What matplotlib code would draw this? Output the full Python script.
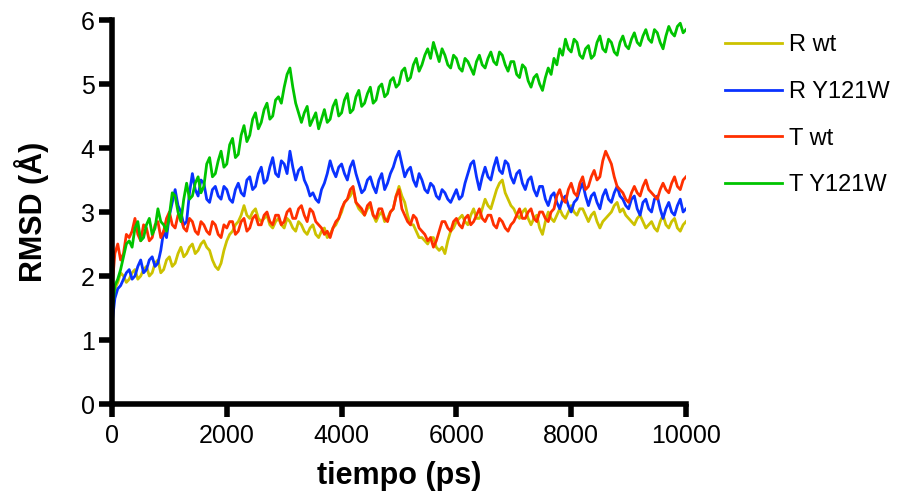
"""
RMSD vs time for the four simulations.
"""

import matplotlib.pyplot as plt
import numpy as np

plt.rcParams["font.family"] = ["Liberation Sans", "DejaVu Sans"]

# time axis (ps), one reading every 50 ps
tiempo = np.arange(0, 10001, 50)

r_wt = [
    1.45, 1.80, 1.90, 2.05, 2.00, 1.90, 1.95, 2.05, 2.10, 1.95,
    2.00, 2.10, 2.15, 2.00, 2.05, 2.20, 2.25, 2.05, 2.10, 2.25,
    2.30, 2.15, 2.20, 2.35, 2.45, 2.30, 2.35, 2.45, 2.50, 2.35,
    2.40, 2.50, 2.55, 2.45, 2.40, 2.25, 2.15, 2.10, 2.20, 2.40,
    2.55, 2.65, 2.70, 2.80, 2.85, 2.95, 3.10, 2.95, 2.90, 3.00,
    3.05, 2.90, 2.85, 2.90, 2.95, 2.80, 2.75, 2.85, 2.90, 2.80,
    2.75, 2.90, 2.85, 2.75, 2.70, 2.85, 2.80, 2.70, 2.65, 2.75,
    2.80, 2.65, 2.60, 2.70, 2.75, 2.60, 2.65, 2.75, 2.80, 2.90,
    3.00, 3.15, 3.20, 3.25, 3.35, 3.15, 3.05, 3.00, 2.95, 3.05,
    3.10, 2.95, 2.85, 2.95, 3.00, 2.85, 2.90, 3.00, 3.05, 3.25,
    3.40, 3.25, 3.15, 2.95, 2.80, 2.80, 2.70, 2.60, 2.60, 2.55,
    2.50, 2.60, 2.60, 2.45, 2.40, 2.45, 2.35, 2.55, 2.70, 2.75,
    2.85, 2.90, 2.95, 2.85, 2.80, 2.95, 3.05, 2.90, 2.90, 3.05,
    3.20, 3.10, 3.05, 3.20, 3.35, 3.45, 3.50, 3.30, 3.20, 3.10,
    3.05, 2.95, 2.90, 3.00, 3.05, 2.90, 2.80, 2.90, 2.95, 2.75,
    2.65, 2.85, 3.00, 2.90, 2.85, 2.95, 3.05, 2.95, 2.90, 3.00,
    3.10, 3.00, 2.95, 3.05, 3.05, 2.95, 2.85, 2.95, 3.00, 2.85,
    2.75, 2.85, 2.90, 2.95, 3.00, 3.10, 3.15, 3.00, 3.05, 2.95,
    2.90, 2.85, 2.80, 2.90, 2.95, 2.85, 2.75, 2.80, 2.85, 2.75,
    2.70, 2.85, 2.95, 2.80, 2.75, 2.85, 2.90, 2.75, 2.70, 2.80,
    2.85,
]

r_y121w = [
    1.25, 1.65, 1.80, 1.85, 1.95, 2.05, 2.10, 1.95, 2.00, 2.15,
    2.25, 2.05, 2.10, 2.25, 2.30, 2.15, 2.20, 2.40, 2.70, 2.60,
    2.95, 3.15, 3.35, 3.10, 3.00, 2.80, 2.85, 3.30, 3.60, 3.35,
    3.25, 3.50, 3.45, 3.20, 3.15, 3.35, 3.40, 3.25, 3.20, 3.40,
    3.35, 3.20, 3.15, 3.35, 3.45, 3.30, 3.25, 3.50, 3.55, 3.35,
    3.40, 3.60, 3.70, 3.45, 3.50, 3.70, 3.85, 3.60, 3.55, 3.80,
    3.75, 3.60, 3.95, 3.70, 3.50, 3.65, 3.70, 3.50, 3.40, 3.25,
    3.30, 3.20, 3.15, 3.35, 3.45, 3.60, 3.80, 3.65, 3.55, 3.70,
    3.75, 3.60, 3.50, 3.70, 3.80, 3.60, 3.45, 3.30, 3.35, 3.50,
    3.55, 3.40, 3.30, 3.50, 3.60, 3.35, 3.45, 3.60, 3.70, 3.85,
    3.95, 3.75, 3.55, 3.65, 3.70, 3.50, 3.40, 3.60, 3.50, 3.35,
    3.30, 3.45, 3.40, 3.25, 3.20, 3.35, 3.30, 3.20, 3.15, 3.25,
    3.35, 3.20, 3.25, 3.45, 3.60, 3.75, 3.80, 3.55, 3.35, 3.55,
    3.70, 3.55, 3.50, 3.70, 3.85, 3.65, 3.60, 3.80, 3.75, 3.55,
    3.45, 3.60, 3.65, 3.45, 3.35, 3.50, 3.55, 3.35, 3.25, 3.40,
    3.40, 3.20, 3.10, 3.25, 3.30, 3.15, 3.05, 3.20, 3.25, 3.10,
    3.00, 3.15, 3.20, 3.35, 3.45, 3.25, 3.10, 3.25, 3.30, 3.15,
    3.05, 3.25, 3.35, 3.20, 3.15, 3.30, 3.40, 3.25, 3.20, 3.10,
    3.05, 3.20, 3.25, 3.05, 2.95, 3.15, 3.20, 3.05, 3.00, 3.20,
    3.25, 3.05, 2.90, 3.05, 3.15, 3.00, 2.95, 3.10, 3.20, 3.00,
    3.05,
]

t_wt = [
    1.80, 2.35, 2.50, 2.25, 2.35, 2.65, 2.60, 2.70, 2.90, 2.65,
    2.55, 2.80, 2.75, 2.55, 2.60, 2.80, 2.85, 2.60, 2.70, 2.90,
    3.00, 2.80, 2.75, 2.95, 2.90, 2.75, 2.70, 2.90, 2.85, 2.70,
    2.65, 2.85, 2.80, 2.70, 2.65, 2.85, 2.80, 2.65, 2.60, 2.80,
    2.75, 2.85, 2.85, 2.65, 2.70, 2.85, 2.90, 2.70, 2.75, 2.90,
    2.95, 2.80, 2.80, 2.95, 3.00, 2.85, 2.80, 2.95, 2.95, 2.80,
    2.85, 3.00, 3.05, 2.90, 2.90, 3.05, 3.10, 2.95, 2.85, 3.05,
    3.00, 2.85, 2.80, 2.75, 2.65, 2.70, 2.60, 2.75, 2.85, 2.90,
    3.05, 3.15, 3.20, 3.35, 3.40, 3.15, 3.10, 3.05, 2.95, 3.10,
    3.15, 2.95, 2.90, 3.05, 3.05, 2.90, 2.85, 3.00, 3.05, 3.25,
    3.35, 3.05, 2.95, 2.85, 2.80, 2.95, 2.90, 2.75, 2.70, 2.65,
    2.55, 2.60, 2.45, 2.55, 2.70, 2.85, 2.85, 2.75, 2.70, 2.85,
    2.90, 2.80, 2.75, 2.90, 2.95, 2.80, 2.85, 2.95, 3.05, 2.90,
    2.85, 2.95, 2.95, 2.80, 2.75, 2.90, 2.85, 2.75, 2.70, 2.80,
    2.85, 2.95, 3.05, 2.90, 2.90, 3.00, 3.05, 2.90, 2.85, 3.00,
    3.00, 2.90, 2.85, 3.00, 3.05, 3.25, 3.35, 3.20, 3.15, 3.35,
    3.45, 3.30, 3.25, 3.45, 3.55, 3.35, 3.40, 3.55, 3.65, 3.50,
    3.55, 3.80, 3.95, 3.85, 3.75, 3.55, 3.40, 3.35, 3.30, 3.20,
    3.15, 3.30, 3.40, 3.30, 3.25, 3.40, 3.50, 3.35, 3.30, 3.25,
    3.20, 3.35, 3.45, 3.35, 3.30, 3.45, 3.55, 3.40, 3.35, 3.50,
    3.55,
]

t_y121w = [
    1.40, 1.85, 1.95, 2.10, 2.30, 2.50, 2.55, 2.45, 2.75, 2.85,
    2.55, 2.60, 2.80, 2.90, 2.65, 2.75, 3.05, 2.85, 2.80, 2.70,
    2.95, 3.30, 3.25, 3.00, 2.85, 3.20, 3.45, 3.20, 3.25, 3.45,
    3.55, 3.30, 3.40, 3.75, 3.85, 3.55, 3.60, 3.80, 3.95, 3.70,
    3.75, 4.05, 4.15, 3.85, 3.90, 4.20, 4.35, 4.10, 4.20, 4.45,
    4.55, 4.30, 4.40, 4.60, 4.70, 4.45, 4.50, 4.75, 4.80, 4.70,
    4.95, 5.15, 5.25, 4.95, 4.70, 4.55, 4.40, 4.55, 4.65, 4.35,
    4.45, 4.55, 4.30, 4.45, 4.60, 4.40, 4.45, 4.65, 4.75, 4.50,
    4.55, 4.75, 4.85, 4.55, 4.60, 4.80, 4.90, 4.65, 4.70, 4.85,
    4.95, 4.70, 4.75, 4.95, 5.00, 4.80, 4.85, 5.05, 5.10, 4.95,
    5.00, 5.20, 5.25, 5.05, 5.10, 5.30, 5.40, 5.20, 5.30, 5.45,
    5.55, 5.40, 5.65, 5.50, 5.35, 5.55, 5.45, 5.30, 5.25, 5.45,
    5.40, 5.25, 5.20, 5.40, 5.35, 5.25, 5.15, 5.35, 5.45, 5.30,
    5.25, 5.40, 5.50, 5.35, 5.30, 5.50, 5.45, 5.30, 5.20, 5.35,
    5.35, 5.15, 5.10, 5.30, 5.25, 5.05, 4.95, 5.10, 5.15, 5.00,
    4.90, 5.10, 5.25, 5.15, 5.40, 5.30, 5.55, 5.45, 5.70, 5.55,
    5.50, 5.70, 5.65, 5.45, 5.40, 5.55, 5.60, 5.40, 5.45, 5.65,
    5.75, 5.55, 5.50, 5.70, 5.65, 5.50, 5.45, 5.65, 5.75, 5.60,
    5.55, 5.70, 5.80, 5.65, 5.60, 5.75, 5.85, 5.70, 5.65, 5.85,
    5.80, 5.65, 5.55, 5.75, 5.90, 5.80, 5.75, 5.90, 5.95, 5.80,
    5.85,
]

series = [
    ("R wt", r_wt, "#CCC200"),
    ("R Y121W", r_y121w, "#0A32FF"),
    ("T wt", t_wt, "#FF3000"),
    ("T Y121W", t_y121w, "#00C400"),
]

x_ticks = [0, 2000, 4000, 6000, 8000, 10000]
y_ticks = [0, 1, 2, 3, 4, 5, 6]

fig = plt.figure(figsize=(8.99, 4.93), dpi=100)
ax = fig.add_axes([112 / 899, 1 - 404 / 493, 574 / 899, 384 / 493])

for name, values, color in series:
    ax.plot(tiempo, values, color=color, linewidth=2.0, label=name)

ax.set_xlim(0, 10000)
ax.set_ylim(0, 6)
ax.set_xticks(x_ticks)
ax.set_yticks(y_ticks)

for side in ["top", "right"]:
    ax.spines[side].set_visible(False)
for side in ["left", "bottom"]:
    ax.spines[side].set_linewidth(4.0)
    ax.spines[side].set_capstyle("projecting")

ax.tick_params(direction="out", length=9.5, width=4.0, labelsize=18, pad=3)
ax.tick_params(axis="x", pad=5)

ax.set_xlabel("tiempo (ps)", fontsize=22, fontweight="bold", labelpad=9)
ax.set_ylabel("RMSD (Å)", fontsize=22, fontweight="bold", labelpad=23)

ax.legend(
    loc="upper left",
    bbox_to_anchor=(725 / 899, 1 - 34 / 493),
    bbox_transform=fig.transFigure,
    frameon=False,
    fontsize=17,
    handlelength=2.4,
    handletextpad=0.3,
    labelspacing=1.05,
    borderpad=0,
    borderaxespad=0,
)

plt.savefig("out.png", dpi=100)
plt.close()
